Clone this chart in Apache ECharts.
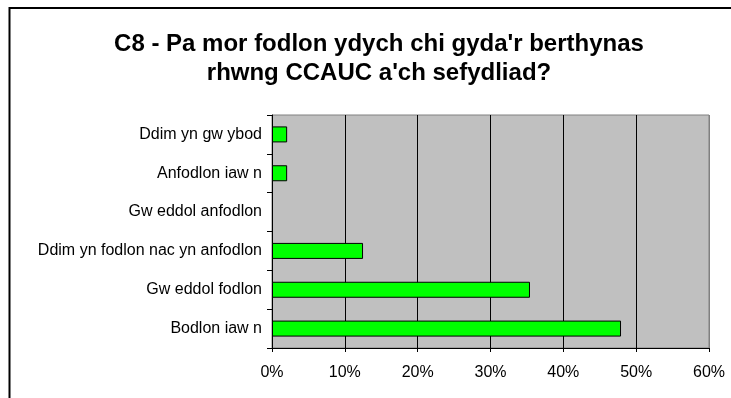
<!DOCTYPE html>
<html>
<head>
<meta charset="utf-8">
<style>
  html, body { margin: 0; padding: 0; background: #ffffff; }
  #chart { width: 731px; height: 398px; }
</style>
<script src="https://cdn.jsdelivr.net/npm/echarts@6/dist/echarts.min.js"></script>
</head>
<body>
<div id="chart"></div>
<script>
// Survey answers, listed bottom to top as they appear on the axis
const categories = [
  'Bodlon iaw n',
  'Gw eddol fodlon',
  'Ddim yn fodlon nac yn anfodlon',
  'Gw eddol anfodlon',
  'Anfodlon iaw n',
  'Ddim yn gw ybod'
];
// Share of responses (%)
const shares = [47.92, 35.42, 12.5, 0, 2.08, 2.08];
// Percentage axis ticks
const tickMin = 0;
const tickMax = 60;
const tickStep = 10;

const titleText = "C8 - Pa mor fodlon ydych chi gyda'r berthynas\nrhwng CCAUC a'ch sefydliad?";
const font = "'Liberation Sans', Arial, sans-serif";

const chart = echarts.init(document.getElementById('chart'), null, { renderer: 'canvas' });

// Empty answers get no outline so nothing shows at zero
const barData = shares.map(v => ({
  value: v,
  itemStyle: v > 0 ? {} : { borderWidth: 0, color: 'transparent' }
}));

chart.setOption({
  backgroundColor: '#ffffff',
  animation: false,
  title: {
    text: titleText,
    left: 374,
    top: 25,
    textAlign: 'center',
    textStyle: {
      fontFamily: font,
      fontSize: 24,
      fontWeight: 'bold',
      color: '#000000',
      lineHeight: 29
    }
  },
  graphic: [
    {
      type: 'rect',
      silent: true,
      z: -1,
      shape: { x: 9.5, y: 8, width: 1000, height: 1000 },
      style: { fill: 'none', stroke: '#000000', lineWidth: 2 }
    }
  ],
  grid: {
    left: 272,
    right: 22,
    top: 115,
    bottom: 50,
    show: true,
    backgroundColor: '#c0c0c0',
    borderColor: '#808080',
    borderWidth: 1
  },
  xAxis: {
    type: 'value',
    min: tickMin,
    max: tickMax,
    interval: tickStep,
    axisLine: { show: true, lineStyle: { color: '#000000', width: 1 } },
    axisTick: { show: true, length: 4, lineStyle: { color: '#000000' } },
    axisLabel: {
      margin: 17,
      fontFamily: font,
      fontSize: 16,
      color: '#000000',
      formatter: v => v + '%'
    },
    splitLine: {
      show: true,
      lineStyle: {
        color: ['#000000', '#000000', '#000000', '#000000', '#000000', '#000000', '#808080'],
        width: 1
      }
    }
  },
  yAxis: {
    type: 'category',
    data: categories,
    axisLine: { show: true, lineStyle: { color: '#000000', width: 1 } },
    axisTick: { show: true, length: 5, lineStyle: { color: '#000000' } },
    axisLabel: {
      margin: 10,
      fontFamily: font,
      fontSize: 16,
      color: '#000000'
    },
    splitLine: { show: false }
  },
  series: [
    {
      type: 'bar',
      data: barData,
      barWidth: 16,
      itemStyle: {
        color: '#00ff00',
        borderColor: '#000000',
        borderWidth: 1
      }
    }
  ]
});
</script>
</body>
</html>
